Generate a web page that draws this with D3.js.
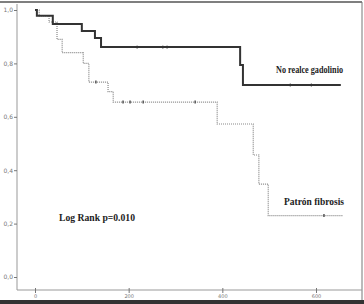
<!DOCTYPE html>
<html lang="es">
<head>
<meta charset="utf-8">
<title>Kaplan-Meier</title>
<script src="https://d3js.org/d3.v7.min.js"></script>
<style>
  body { margin: 0; background: #fff; }
  svg { display: block; }
</style>
</head>
<body>
<div id="chart"></div>
<script>
// step points: [time, survival]
var noRealceSteps = [[0, 1.0], [4, 0.978], [38, 0.948], [100, 0.921], [128, 0.895], [141, 0.861], [438, 0.794], [444, 0.719], [653, 0.719]];
var noRealceCensor = [[218, 0.861], [273, 0.861], [282, 0.861], [545, 0.719], [590, 0.719]];
var fibrosisSteps = [[0, 1.0], [9, 0.978], [30, 0.955], [47, 0.89], [58, 0.84], [103, 0.80], [115, 0.73], [156, 0.694], [167, 0.655], [389, 0.573], [466, 0.457], [478, 0.348], [498, 0.23], [658, 0.23]];
var fibrosisCensor = [[130, 0.73], [188, 0.655], [203, 0.655], [231, 0.655], [342, 0.655], [617, 0.23]];
var yTicks = [0, 0.2, 0.4, 0.6, 0.8, 1.0];
var xTicks = [0, 200, 400, 600];

var w = 364, h = 304;
var svg = d3.select("#chart").append("svg").attr("width", w).attr("height", h);

var x = d3.scaleLinear().domain([0, 600]).range([35, 316]);
var y = d3.scaleLinear().domain([0, 1]).range([277, 10]);

// frame
svg.append("line").attr("x1", 0).attr("x2", 362).attr("y1", 2).attr("y2", 2)
   .attr("stroke", "#555").attr("stroke-width", 1.5);
svg.append("line").attr("x1", 362).attr("x2", 362).attr("y1", 2).attr("y2", 300)
   .attr("stroke", "#777").attr("stroke-width", 1);
svg.append("rect").attr("x", 0).attr("y", 300).attr("width", w).attr("height", 4).attr("fill", "#333");

// axes
var yAxis = d3.axisLeft(y).tickValues(yTicks).tickSize(3).tickFormat(function(d) {
  return d3.format(".1f")(d).replace(".", ",");
});
var gy = svg.append("g").attr("transform", "translate(17,0)").call(yAxis);
gy.select(".domain").attr("d", "M0,4V290").attr("stroke", "#999");
gy.selectAll(".tick line").attr("stroke", "#777");
gy.selectAll("text").attr("font-size", 6).attr("fill", "#777").attr("x", -4).attr("font-family", "DejaVu Sans");

var xAxis = d3.axisBottom(x).tickValues(xTicks).tickSize(3);
var gx = svg.append("g").attr("transform", "translate(0,290)").call(xAxis);
gx.select(".domain").attr("d", "M17,0H362").attr("stroke", "#999");
gx.selectAll(".tick line").attr("y1", -2).attr("stroke", "#777");
gx.selectAll("text").attr("font-size", 5).attr("fill", "#777").attr("y", 4).attr("font-family", "DejaVu Sans");

var line = d3.line().curve(d3.curveStepAfter)
  .x(function(d) { return x(d[0]); })
  .y(function(d) { return y(d[1]); });

svg.append("path").datum(fibrosisSteps).attr("d", line)
  .attr("fill", "none").attr("stroke", "#888").attr("stroke-width", 1.2).attr("stroke-dasharray", "1,1");
svg.append("path").datum(noRealceSteps).attr("d", line)
  .attr("fill", "none").attr("stroke", "#333").attr("stroke-width", 2);

// censor marks
svg.selectAll("line.cf").data(fibrosisCensor).enter().append("line").attr("class", "cf")
  .attr("x1", function(d) { return x(d[0]); }).attr("x2", function(d) { return x(d[0]); })
  .attr("y1", function(d) { return y(d[1]) - 1.5; }).attr("y2", function(d) { return y(d[1]) + 1.5; })
  .attr("stroke", "#555").attr("stroke-width", 1.5);
svg.selectAll("line.cn").data(noRealceCensor).enter().append("line").attr("class", "cn")
  .attr("x1", function(d) { return x(d[0]); }).attr("x2", function(d) { return x(d[0]); })
  .attr("y1", function(d) { return y(d[1]) - 1.5; }).attr("y2", function(d) { return y(d[1]) + 1.5; })
  .attr("stroke", "#333").attr("stroke-width", 1);

// labels
function label(txt, lx, ly, len) {
  svg.append("text").text(txt).attr("x", lx).attr("y", ly)
    .attr("font-family", "Liberation Serif").attr("font-weight", "bold")
    .attr("font-size", 10.5).attr("fill", "#222")
    .attr("textLength", len).attr("lengthAdjust", "spacingAndGlyphs");
}
label("No realce gadolinio", 276, 73, 67);
label("Patrón fibrosis", 284, 205, 60);
label("Log Rank p=0.010", 59, 221, 76);
</script>
</body>
</html>
